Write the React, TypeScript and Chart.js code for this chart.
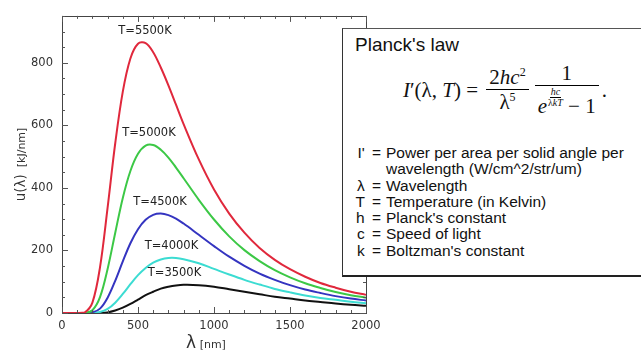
import React, { useEffect, useRef } from "react";
import { Chart, registerables } from "chart.js";

Chart.register(...registerables);

// Wavelength grid (nm)
const wavelengths = [0, 100, 150, 200, 250, 300, 350, 400, 450, 500, 550, 600, 650, 700, 750, 800, 900, 1000, 1100, 1200, 1300, 1400, 1500, 1600, 1700, 1800, 1900, 2000];

// Spectral energy density u(λ) [kJ/nm]
const u5500 = [0, 0, 2, 33, 146, 337, 542, 708, 814, 861, 863, 834, 785, 728, 666, 604, 491, 395, 318, 257, 208, 170, 140, 116, 96, 81, 68, 58];
const u5000 = [0, 0, 0, 9, 51, 141, 256, 368, 454, 509, 535, 537, 522, 497, 465, 431, 362, 299, 245, 201, 166, 137, 114, 95, 80, 67, 57, 49];
const u4500 = [0, 0, 0, 2, 14, 49, 103, 165, 223, 268, 298, 314, 318, 313, 302, 286, 250, 214, 180, 151, 126, 106, 89, 75, 64, 54, 46, 40];
const u4000 = [0, 0, 0, 0, 3, 13, 33, 61, 92, 121, 144, 161, 171, 176, 176, 172, 159, 141, 123, 106, 91, 77, 66, 56, 48, 42, 36, 31];
const u3500 = [0, 0, 0, 0, 0, 2, 8, 17, 29, 43, 57, 68, 78, 84, 88, 90, 89, 84, 76, 68, 60, 52, 46, 40, 35, 30, 26, 23];

const seriesNames = ["T=5500K", "T=5000K", "T=4500K", "T=4000K", "T=3500K"];
const seriesValues = [u5500, u5000, u4500, u4000, u3500];
const seriesColors = ["#e0283c", "#3cc846", "#3434c0", "#3cdcd2", "#111111"];
// wavelength at which each curve label is centred
const labelWavelengths = [546, 572, 645, 720, 740];

const xTicks = [0, 500, 1000, 1500, 2000];
const yTicks = [0, 200, 400, 600, 800];
const xMinorStep = 100;
const yMinorStep = 50;
const xMax = 2000;
const yMax = 950;

const tickFont = '"DejaVu Sans", sans-serif';

const decorPlugin = {
  id: "decor",
  afterDraw(chart: any) {
    const { ctx, chartArea } = chart;
    const xs = chart.scales.x;
    const ys = chart.scales.y;
    const { left, right, top, bottom } = chartArea;
    ctx.save();
    // frame
    ctx.strokeStyle = "#444";
    ctx.lineWidth = 1;
    ctx.strokeRect(Math.round(left) + 0.5, Math.round(top) + 0.5, Math.round(right - left), Math.round(bottom - top));
    // ticks
    ctx.strokeStyle = "#555";
    ctx.beginPath();
    for (let v = 0; v <= xMax; v += xMinorStep) {
      const px = Math.round(xs.getPixelForValue(v)) + 0.5;
      const len = xTicks.includes(v) ? 6 : 3;
      ctx.moveTo(px, bottom);
      ctx.lineTo(px, bottom - len);
      ctx.moveTo(px, top);
      ctx.lineTo(px, top + len);
    }
    for (let v = 0; v <= yMax; v += yMinorStep) {
      const py = Math.round(ys.getPixelForValue(v)) + 0.5;
      const len = yTicks.includes(v) ? 6 : 3;
      ctx.moveTo(left, py);
      ctx.lineTo(left + len, py);
      ctx.moveTo(right, py);
      ctx.lineTo(right - len, py);
    }
    ctx.stroke();

    // curve labels
    ctx.fillStyle = "#222";
    ctx.font = `11.5px ${tickFont}`;
    ctx.textAlign = "center";
    ctx.textBaseline = "middle";
    seriesValues.forEach((vals, i) => {
      const peak = Math.max(...vals);
      const px = xs.getPixelForValue(labelWavelengths[i]);
      const py = ys.getPixelForValue(peak) - 12;
      ctx.fillText(seriesNames[i], px, py);
    });

    // x title
    ctx.textAlign = "left";
    ctx.textBaseline = "alphabetic";
    ctx.fillStyle = "#333";
    ctx.font = `17px ${tickFont}`;
    const xBig = "λ";
    const xSmall = " [nm]";
    const w1 = ctx.measureText(xBig).width;
    ctx.font = `11px ${tickFont}`;
    const w2 = ctx.measureText(xSmall).width;
    const cx = (left + right) / 2 - 8;
    const sx = cx - (w1 + w2) / 2;
    ctx.font = `17px ${tickFont}`;
    ctx.fillText(xBig, sx, 348);
    ctx.font = `11px ${tickFont}`;
    ctx.fillText(xSmall, sx + w1, 348);

    // y title
    ctx.translate(25, (top + bottom) / 2);
    ctx.rotate(-Math.PI / 2);
    ctx.font = `13.5px ${tickFont}`;
    const yBig = "u(λ)";
    const yw1 = ctx.measureText(yBig).width;
    ctx.font = `11px ${tickFont}`;
    const ySmall = "  [kJ/nm]";
    const yw2 = ctx.measureText(ySmall).width;
    const sy = -(yw1 + yw2) / 2;
    ctx.font = `13.5px ${tickFont}`;
    ctx.fillText(yBig, sy, 0);
    ctx.font = `11px ${tickFont}`;
    ctx.fillText(ySmall, sy + yw1, 0);
    ctx.restore();
  },
};

function Frac({ num, den }: any) {
  return (
    <span style={{ display: "inline-flex", flexDirection: "column", alignItems: "stretch", textAlign: "center", margin: "0 3px" }}>
      <span style={{ padding: "0 3px 1px", lineHeight: 1.05, borderBottom: "1px solid #000" }}>{num}</span>
      <span style={{ padding: "1px 3px 0", lineHeight: 1.1, display: "flex", justifyContent: "center" }}>{den}</span>
    </span>
  );
}

const definitions = [
  ["I' =", "Power per area per solid angle per"],
  ["", "wavelength (W/cm^2/str/um)"],
  ["λ =", "Wavelength"],
  ["T =", "Temperature (in Kelvin)"],
  ["h =", "Planck's constant"],
  ["c =", "Speed of light"],
  ["k =", "Boltzman's constant"],
];

export default function App() {
  const canvasRef = useRef<HTMLCanvasElement | null>(null);

  useEffect(() => {
    if (!canvasRef.current) return;
    const chart = new Chart(canvasRef.current, {
      type: "line",
      data: {
        datasets: seriesValues.map((vals, i) => ({
          label: seriesNames[i],
          data: vals.map((v, j) => ({ x: wavelengths[j], y: v })),
          borderColor: seriesColors[i],
          backgroundColor: seriesColors[i],
          borderWidth: 2,
          pointRadius: 0,
          tension: 0.35,
          clip: 4,
        })),
      },
      options: {
        animation: false,
        responsive: false,
        maintainAspectRatio: false,
        layout: { padding: { left: 0, top: 10, right: 275, bottom: 0 } },
        plugins: { legend: { display: false }, tooltip: { enabled: false } },
        scales: {
          x: {
            type: "linear",
            min: 0,
            max: xMax,
            afterBuildTicks: (s: any) => {
              s.ticks = xTicks.map((v) => ({ value: v }));
            },
            afterFit: (s: any) => {
              s.height = 39;
            },
            grid: { display: false, drawTicks: false },
            border: { display: false },
            ticks: {
              padding: 6,
              color: "#333",
              font: { family: tickFont, size: 11.5 },
              maxRotation: 0,
              autoSkip: false,
              callback: (v: any) => String(v),
            },
          },
          y: {
            type: "linear",
            min: 0,
            max: yMax,
            afterBuildTicks: (s: any) => {
              s.ticks = yTicks.map((v) => ({ value: v }));
            },
            afterFit: (s: any) => {
              s.width = 62;
            },
            grid: { display: false, drawTicks: false },
            border: { display: false },
            ticks: {
              padding: 9,
              color: "#333",
              font: { family: tickFont, size: 11.5 },
              autoSkip: false,
              callback: (v: any) => String(v),
            },
          },
        },
      },
      plugins: [decorPlugin],
    });
    return () => chart.destroy();
  }, []);

  return (
    <div style={{ position: "fixed", left: 0, top: 0, width: 641, height: 352, background: "#fff", overflow: "hidden" }}>
      <canvas ref={canvasRef} width={641} height={352} style={{ position: "absolute", left: 0, top: 0 }} />
      <div
        style={{
          position: "absolute",
          left: 342,
          top: 28,
          width: 320,
          height: 246,
          background: "#fff",
          borderTop: "1.5px solid #555",
          borderLeft: "1.5px solid #333",
          borderBottom: "2px solid #222",
          fontFamily: '"Liberation Sans", Arial, sans-serif',
          color: "#111",
        }}
      >
        <div style={{ position: "absolute", left: 12, top: 5, fontSize: 19 }}>Planck's law</div>
        <div
          style={{
            position: "absolute",
            left: 60,
            top: 38,
            height: 46,
            display: "flex",
            alignItems: "center",
            fontFamily: '"Liberation Serif", "DejaVu Serif", serif',
            fontSize: 21,
            whiteSpace: "nowrap",
          }}
        >
          <span>
            <i>I</i>′(λ, <i>T</i>) =&nbsp;
          </span>
          <Frac
            num={
              <span>
                2<i>hc</i>
                <sup style={{ fontSize: 12 }}>2</sup>
              </span>
            }
            den={
              <span>
                λ<sup style={{ fontSize: 12 }}>5</sup>
              </span>
            }
          />
          <Frac
            num={<span>1</span>}
            den={
              <span style={{ display: "inline-flex", alignItems: "flex-end" }}>
                <i>e</i>
                <span
                  style={{
                    display: "inline-flex",
                    flexDirection: "column",
                    alignItems: "center",
                    fontSize: 10,
                    lineHeight: 1,
                    marginBottom: 10,
                    marginLeft: 1,
                  }}
                >
                  <span style={{ borderBottom: "0.8px solid #000", padding: "0 1px" }}>
                    <i>hc</i>
                  </span>
                  <span>
                    λ<i>kT</i>
                  </span>
                </span>
                <span>&nbsp;− 1</span>
              </span>
            }
          />
          <span>.</span>
        </div>
        <div style={{ position: "absolute", left: 4, top: 116, fontSize: 15.5, lineHeight: "16.3px" }}>
          {definitions.map(([sym, text], i) => (
            <div key={i} style={{ display: "flex", whiteSpace: "nowrap" }}>
              <span style={{ width: 34, textAlign: "right", paddingRight: 5, wordSpacing: 3 }}>{sym}</span>
              <span>{text}</span>
            </div>
          ))}
        </div>
      </div>
    </div>
  );
}
